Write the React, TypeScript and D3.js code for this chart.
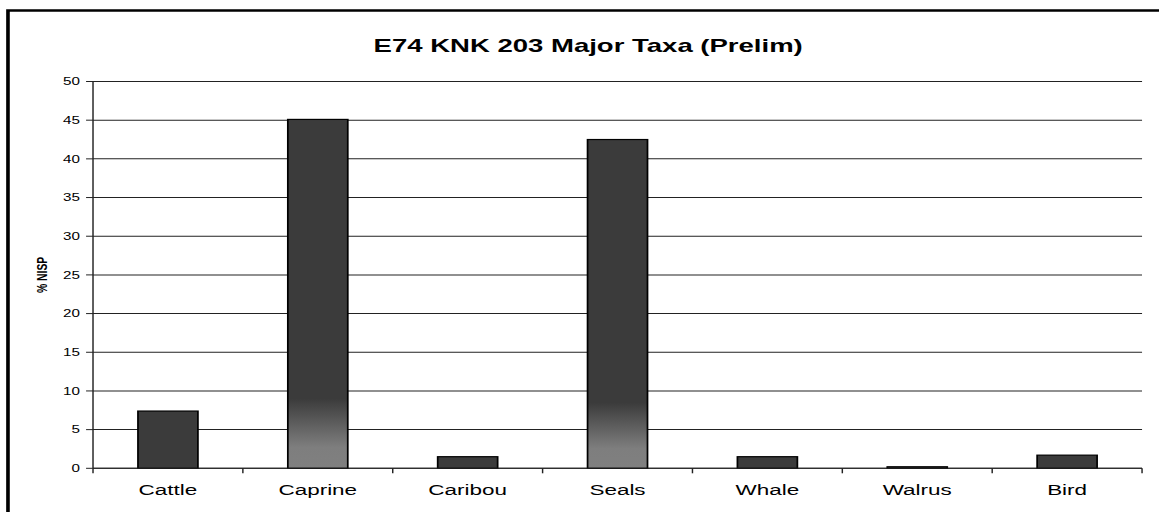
import React from "react";
import * as d3 from "d3";

// Major taxa, % NISP
const taxa = ["Cattle", "Caprine", "Caribou", "Seals", "Whale", "Walrus", "Bird"];
const nispPercent = [7.4, 45.1, 1.5, 42.5, 1.5, 0.2, 1.7];
const yTicks = [0, 5, 10, 15, 20, 25, 30, 35, 40, 45, 50];
const shadedTaxa = ["Caprine", "Seals"];

const title = "E74 KNK 203 Major Taxa (Prelim)";
const yLabel = "% NISP";

// The drawing is laid out in a narrower space and stretched across the page width
const OUT_W = 1159;
const OUT_H = 512;
const VW = 800;
const VH = 512;

const plot = { left: 64.2, right: 788.3, top: 81.5, bottom: 468.3 };
const FONT = "Arial, 'Liberation Sans', sans-serif";
const BAR_FILL = "#3b3b3b";

export default function App() {
  const x = d3
    .scaleBand<string>()
    .domain(taxa)
    .range([plot.left, plot.right])
    .paddingInner(0.6)
    .paddingOuter(0.3);
  const y = d3.scaleLinear().domain([0, 50]).range([plot.bottom, plot.top]);
  const step = (plot.right - plot.left) / taxa.length;
  const catEdges = d3.range(taxa.length + 1).map((i) => plot.left + i * step);

  return (
    <svg
      width={OUT_W}
      height={OUT_H}
      viewBox={`0 0 ${VW} ${VH}`}
      preserveAspectRatio="none"
      style={{ position: "absolute", left: 0, top: 0, background: "#fff" }}
    >
      <defs>
        <linearGradient id="barShade" x1="0" y1="0" x2="0" y2="1">
          <stop offset="0" stopColor={BAR_FILL} />
          <stop offset="0.8" stopColor={BAR_FILL} />
          <stop offset="0.94" stopColor="#7e7e7e" />
          <stop offset="1" stopColor="#808080" />
        </linearGradient>
      </defs>

      {/* chart frame */}
      <rect x={5.5} y={10.5} width={VW} height={VH} fill="#fff" stroke="#000" strokeWidth={2.5} />

      <text
        x={406}
        y={52}
        textAnchor="middle"
        fontFamily={FONT}
        fontWeight="bold"
        fontSize={19}
        fill="#000"
      >
        {title}
      </text>

      {/* gridlines */}
      {yTicks.map((t) => (
        <line
          key={"g" + t}
          x1={plot.left}
          x2={plot.right}
          y1={y(t)}
          y2={y(t)}
          stroke="#222"
          strokeWidth={1}
        />
      ))}

      {/* y axis */}
      <line x1={plot.left} x2={plot.left} y1={plot.top} y2={plot.bottom} stroke="#222" strokeWidth={1} />
      {yTicks.map((t) => (
        <g key={"yt" + t}>
          <line x1={plot.left - 4.8} x2={plot.left} y1={y(t)} y2={y(t)} stroke="#222" strokeWidth={1} />
          <text
            x={55.2}
            y={y(t)}
            dy="0.35em"
            textAnchor="end"
            fontFamily={FONT}
            fontSize={10.5}
            fill="#000"
          >
            {t}
          </text>
        </g>
      ))}

      <text
        transform={`translate(29, ${(plot.top + plot.bottom) / 2}) rotate(-90)`}
        textAnchor="middle"
        dy="0.35em"
        fontFamily={FONT}
        fontWeight="bold"
        fontSize={10.3}
        fill="#000"
      >
        {yLabel}
      </text>

      {/* bars */}
      {taxa.map((c, i) => (
        <rect
          key={"b" + c}
          x={x(c)}
          y={y(nispPercent[i])}
          width={x.bandwidth()}
          height={y(0) - y(nispPercent[i])}
          fill={shadedTaxa.includes(c) ? "url(#barShade)" : BAR_FILL}
          stroke="#000"
          strokeWidth={1.2}
        />
      ))}

      {/* x axis */}
      <line x1={plot.left} x2={plot.right} y1={plot.bottom} y2={plot.bottom} stroke="#222" strokeWidth={1} />
      {catEdges.map((e, i) => (
        <line key={"xt" + i} x1={e} x2={e} y1={plot.bottom} y2={plot.bottom + 5} stroke="#222" strokeWidth={1} />
      ))}
      {taxa.map((c) => (
        <text
          key={"xl" + c}
          x={(x(c) as number) + x.bandwidth() / 2}
          y={495}
          textAnchor="middle"
          fontFamily={FONT}
          fontSize={15.5}
          fill="#000"
        >
          {c}
        </text>
      ))}
    </svg>
  );
}
